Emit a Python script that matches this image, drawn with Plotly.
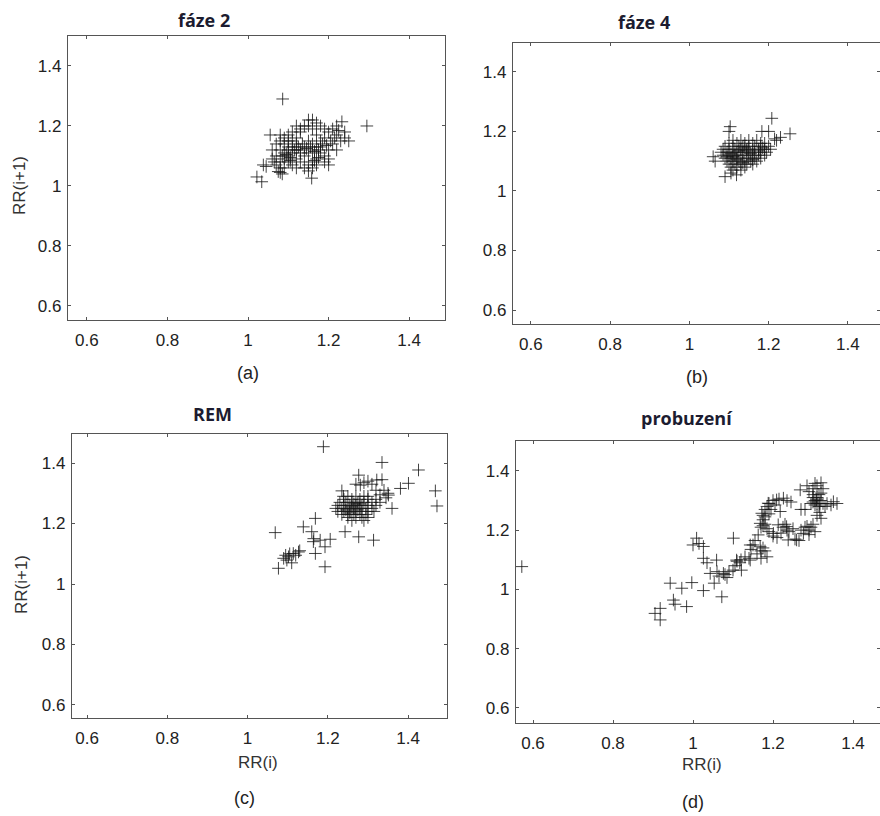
import plotly.graph_objects as go

W, H = 880, 816

TITLES = ["fáze 2", "fáze 4", "REM", "probuzení"]
LABELS = ["(a)", "(b)", "(c)", "(d)"]
TICKS = [0.6, 0.8, 1.0, 1.2, 1.4]
TICK_TEXT = ["0.6", "0.8", "1", "1.2", "1.4"]

A_PTS = [
    (1.086, 1.29), (1.295, 1.2), (1.034, 1.014), (1.022, 1.03), (1.158, 1.026), (1.233, 1.214),
    (1.055, 1.17), (1.038, 1.07), (1.045, 1.065), (1.075, 1.048), (1.08, 1.045),
    (1.07, 1.10), (1.08, 1.12), (1.09, 1.14), (1.10, 1.15), (1.11, 1.13), (1.12, 1.16),
    (1.13, 1.18), (1.14, 1.20), (1.15, 1.22), (1.16, 1.19), (1.17, 1.17), (1.18, 1.15),
    (1.19, 1.16), (1.20, 1.18), (1.21, 1.19), (1.22, 1.17), (1.23, 1.15), (1.21, 1.14),
    (1.20, 1.12), (1.19, 1.10), (1.18, 1.11), (1.17, 1.09), (1.16, 1.08), (1.15, 1.07),
    (1.14, 1.06), (1.13, 1.08), (1.12, 1.09), (1.11, 1.11), (1.10, 1.10), (1.09, 1.09),
    (1.08, 1.08), (1.07, 1.07), (1.06, 1.09), (1.09, 1.11), (1.10, 1.12), (1.10, 1.13),
    (1.11, 1.15), (1.12, 1.14), (1.13, 1.12), (1.14, 1.13), (1.15, 1.15), (1.16, 1.14),
    (1.17, 1.13), (1.18, 1.13), (1.16, 1.12), (1.15, 1.11), (1.14, 1.10), (1.13, 1.11),
    (1.12, 1.12), (1.11, 1.07), (1.12, 1.06), (1.15, 1.05), (1.16, 1.06), (1.17, 1.07),
    (1.19, 1.08), (1.20, 1.09), (1.22, 1.12), (1.24, 1.16), (1.25, 1.15), (1.24, 1.18),
    (1.22, 1.20), (1.19, 1.19), (1.18, 1.20), (1.17, 1.21), (1.16, 1.22), (1.15, 1.20),
    (1.13, 1.19), (1.12, 1.20), (1.11, 1.18), (1.10, 1.17), (1.09, 1.16), (1.08, 1.15),
    (1.08, 1.17), (1.07, 1.14), (1.06, 1.12), (1.065, 1.08), (1.085, 1.10), (1.095, 1.105),
    (1.105, 1.095), (1.115, 1.12), (1.125, 1.13), (1.135, 1.14), (1.145, 1.125), (1.155, 1.13),
    (1.165, 1.115), (1.175, 1.12), (1.185, 1.14), (1.195, 1.135), (1.205, 1.15), (1.215, 1.16),
    (1.225, 1.185), (1.10, 1.08), (1.09, 1.06), (1.08, 1.06), (1.085, 1.04), (1.105, 1.085),
    (1.165, 1.085), (1.175, 1.095), (1.2, 1.07),
]

B_PTS = [
    (1.208, 1.244), (1.254, 1.192), (1.06, 1.115), (1.09, 1.048), (1.119, 1.054), (1.103, 1.216),
    (1.183, 1.2), (1.10, 1.20), (1.23, 1.18), (1.22, 1.17), (1.065, 1.10), (1.105, 1.06),
    (1.2, 1.2), (1.215, 1.175),
    (1.11, 1.17), (1.13, 1.17), (1.15, 1.17), (1.17, 1.17),
    (1.10, 1.16), (1.12, 1.16), (1.14, 1.16), (1.16, 1.16), (1.18, 1.16), (1.19, 1.16),
    (1.09, 1.15), (1.11, 1.15), (1.125, 1.15), (1.135, 1.15), (1.15, 1.15), (1.165, 1.15),
    (1.18, 1.15), (1.20, 1.15),
    (1.085, 1.14), (1.10, 1.14), (1.115, 1.14), (1.13, 1.14), (1.145, 1.14), (1.16, 1.14),
    (1.175, 1.14), (1.19, 1.14), (1.205, 1.14),
    (1.08, 1.13), (1.095, 1.13), (1.11, 1.13), (1.12, 1.13), (1.135, 1.13), (1.15, 1.13),
    (1.165, 1.13), (1.18, 1.13), (1.195, 1.13),
    (1.085, 1.12), (1.10, 1.12), (1.115, 1.12), (1.13, 1.12), (1.145, 1.12), (1.16, 1.12),
    (1.175, 1.12), (1.19, 1.12),
    (1.09, 1.11), (1.105, 1.11), (1.12, 1.11), (1.135, 1.11), (1.15, 1.11), (1.165, 1.11),
    (1.18, 1.11),
    (1.095, 1.10), (1.11, 1.10), (1.125, 1.10), (1.14, 1.10), (1.155, 1.10), (1.17, 1.10),
    (1.10, 1.09), (1.115, 1.09), (1.13, 1.09), (1.145, 1.09), (1.16, 1.09),
    (1.105, 1.08), (1.12, 1.08), (1.14, 1.08), (1.11, 1.07), (1.13, 1.07),
    (1.105, 1.125), (1.125, 1.135), (1.14, 1.145), (1.155, 1.125), (1.12, 1.105), (1.135, 1.095),
    (1.11, 1.115), (1.145, 1.135), (1.16, 1.105), (1.175, 1.135), (1.185, 1.145), (1.095, 1.115),
]

C_PTS = [
    (1.189, 1.454), (1.335, 1.402), (1.426, 1.377), (1.468, 1.308), (1.472, 1.258), (1.401, 1.333),
    (1.381, 1.316), (1.36, 1.25), (1.351, 1.294), (1.069, 1.17), (1.077, 1.052), (1.169, 1.217),
    (1.16, 1.173), (1.164, 1.14), (1.181, 1.145), (1.206, 1.148), (1.193, 1.123), (1.169, 1.101),
    (1.193, 1.057), (1.243, 1.173), (1.277, 1.156), (1.314, 1.145), (1.139, 1.189), (1.235, 1.308),
    (1.239, 1.29), (1.165, 1.15),
    (1.102, 1.09), (1.114, 1.101), (1.127, 1.106), (1.098, 1.079), (1.11, 1.07), (1.09, 1.085),
    (1.12, 1.095), (1.105, 1.1), (1.095, 1.095), (1.13, 1.11),
    (1.277, 1.36), (1.281, 1.327), (1.29, 1.335), (1.30, 1.34), (1.322, 1.344), (1.335, 1.345),
    (1.27, 1.33), (1.31, 1.33), (1.32, 1.31), (1.34, 1.31), (1.35, 1.30), (1.345, 1.285),
    (1.33, 1.295),
    (1.25, 1.29), (1.27, 1.29), (1.29, 1.29), (1.30, 1.29),
    (1.24, 1.28), (1.26, 1.28), (1.28, 1.28), (1.30, 1.28), (1.32, 1.28),
    (1.23, 1.27), (1.245, 1.27), (1.26, 1.27), (1.275, 1.27), (1.29, 1.27), (1.31, 1.27), (1.33, 1.27),
    (1.225, 1.26), (1.24, 1.26), (1.255, 1.26), (1.27, 1.26), (1.285, 1.26), (1.30, 1.26), (1.32, 1.26),
    (1.22, 1.25), (1.235, 1.25), (1.25, 1.25), (1.265, 1.25), (1.28, 1.25), (1.295, 1.25), (1.31, 1.25),
    (1.225, 1.24), (1.24, 1.24), (1.255, 1.24), (1.27, 1.24), (1.285, 1.24), (1.30, 1.24), (1.315, 1.24),
    (1.235, 1.23), (1.25, 1.23), (1.265, 1.23), (1.28, 1.23), (1.295, 1.23),
    (1.25, 1.22), (1.27, 1.22), (1.285, 1.22), (1.30, 1.22),
    (1.26, 1.21), (1.29, 1.21),
    (1.245, 1.245), (1.26, 1.255), (1.275, 1.245), (1.255, 1.235), (1.28, 1.265), (1.265, 1.265),
]

D_PTS = [
    (0.572, 1.077), (0.905, 0.919), (0.918, 0.936), (0.918, 0.897), (0.951, 0.964), (0.955, 0.95),
    (0.984, 0.942), (0.943, 1.021), (0.972, 1.004), (0.997, 1.023), (1.026, 0.996), (1.072, 0.975),
    (1.053, 1.021), (1.043, 1.054), (1.076, 1.054), (1.026, 1.105), (1.059, 1.099), (1.009, 1.173),
    (1.026, 1.145), (1.101, 1.173), (1.109, 1.099), (1.117, 1.09), (1.121, 1.065), (1.10, 1.065),
    (1.143, 1.099), (1.143, 1.15), (1.168, 1.144), (1.17, 1.13), (1.163, 1.184), (1.168, 1.223),
    (1.172, 1.257), (1.188, 1.291), (1.209, 1.302), (1.226, 1.308), (1.218, 1.263), (1.213, 1.218),
    (1.201, 1.189), (1.234, 1.212), (1.238, 1.167), (1.259, 1.167), (1.276, 1.189), (1.28, 1.21),
    (1.285, 1.213), (1.29, 1.2), (1.268, 1.336), (1.285, 1.35), (1.305, 1.358), (1.309, 1.302),
    (1.30, 1.31), (1.317, 1.29), (1.351, 1.296), (1.335, 1.29), (1.317, 1.26), (1.28, 1.27),
    (1.27, 1.27),
    (1.175, 1.25), (1.18, 1.27), (1.185, 1.28), (1.19, 1.29), (1.2, 1.3), (1.215, 1.305),
    (1.235, 1.30), (1.245, 1.295), (1.18, 1.22), (1.175, 1.215), (1.17, 1.21), (1.185, 1.205),
    (1.19, 1.195), (1.2, 1.18), (1.21, 1.175), (1.22, 1.19), (1.225, 1.21), (1.23, 1.22),
    (1.235, 1.20), (1.24, 1.195), (1.25, 1.205), (1.255, 1.17), (1.265, 1.165), (1.29, 1.33),
    (1.30, 1.34), (1.31, 1.35), (1.32, 1.36), (1.315, 1.32), (1.31, 1.31), (1.305, 1.30),
    (1.30, 1.295), (1.295, 1.29), (1.32, 1.30), (1.325, 1.29), (1.33, 1.28), (1.315, 1.28),
    (1.305, 1.285), (1.36, 1.29), (1.345, 1.285), (1.31, 1.25), (1.32, 1.24), (1.30, 1.22),
    (1.295, 1.21), (1.305, 1.195), (1.29, 1.185), (1.27, 1.2), (1.15, 1.15), (1.155, 1.165),
    (1.145, 1.135), (1.16, 1.12), (1.175, 1.14), (1.18, 1.13), (1.185, 1.11), (1.17, 1.105),
    (1.11, 1.095), (1.12, 1.10), (1.105, 1.08), (1.08, 1.05), (1.085, 1.04), (1.09, 1.06),
    (1.065, 1.045), (1.06, 1.06), (1.13, 1.11), (1.14, 1.105), (1.035, 1.09), (1.0, 1.15),
    (1.015, 1.155), (1.175, 1.235), (1.18, 1.245), (1.19, 1.255), (1.195, 1.27), (1.205, 1.285),
    (1.3, 1.32), (1.31, 1.29), (1.32, 1.325), (1.325, 1.34),
]

PANELS = [A_PTS, B_PTS, C_PTS, D_PTS]

# plot-area geometry in pixels (left, right, top, bottom) and axis ranges
BOXES = [(68, 445, 36, 320), (513, 880, 43, 324), (72, 447, 434, 718), (516, 880, 441, 723)]
XR = [(0.553, 1.489), (0.555, 1.481), (0.5626, 1.497), (0.5575, 1.4675)]
YR = [(0.553, 1.5), (0.553, 1.497), (0.557, 1.496), (0.549, 1.501)]

fig = go.Figure()
layout = {}
for i, pts in enumerate(PANELS):
    n = "" if i == 0 else str(i + 1)
    fig.add_trace(go.Scatter(
        x=[p[0] for p in pts], y=[p[1] for p in pts], mode="markers",
        xaxis="x" + n, yaxis="y" + n, showlegend=False, hoverinfo="skip",
        marker=dict(symbol="cross-thin", size=9,
                    line=dict(width=1, color="rgba(20,20,20,0.8)")),
    ))
    l, r, t, b = BOXES[i]
    common = dict(showline=True, mirror="ticks", linecolor="#555", linewidth=1.4,
                  ticks="inside", ticklen=3, tickcolor="#555", showgrid=False,
                  zeroline=False, tickvals=TICKS, ticktext=TICK_TEXT,
                  tickfont=dict(family="Liberation Sans", size=17, color="#222"))
    layout["xaxis" + n] = dict(domain=[l / W, r / W], range=list(XR[i]),
                               anchor="y" + n, ticklabelstandoff=4, **common)
    layout["yaxis" + n] = dict(domain=[1 - b / H, 1 - t / H], range=list(YR[i]),
                               anchor="x" + n, ticklabelstandoff=2, **common)

ann = []
TITLE_POS = [(204, 20), (644, 22), (212, 414), (687, 418)]
LABEL_POS = [(248, 373), (697, 377), (245, 798), (693, 802)]
mid = dict(xref="paper", yref="paper", showarrow=False, xanchor="center", yanchor="middle")
for i in range(4):
    ann.append(dict(x=TITLE_POS[i][0] / W, y=1 - TITLE_POS[i][1] / H,
                    text="<b>" + TITLES[i] + "</b>",
                    font=dict(family="Open Sans", size=18, color="#1c1c30"), **mid))
    ann.append(dict(x=LABEL_POS[i][0] / W, y=1 - LABEL_POS[i][1] / H, text=LABELS[i],
                    font=dict(family="Liberation Sans", size=18, color="#222"), **mid))
for (px, py) in [(20, 186), (21, 585)]:
    ann.append(dict(x=px / W, y=1 - py / H, text="RR(i+1)", textangle=-90,
                    font=dict(family="Liberation Sans", size=17, color="#333"), **mid))
for (px, py) in [(258, 762), (702, 764)]:
    ann.append(dict(x=px / W, y=1 - py / H, text="RR(i)",
                    font=dict(family="Liberation Sans", size=17, color="#333"), **mid))

fig.update_layout(width=W, height=H, margin=dict(l=0, r=0, t=0, b=0),
                  paper_bgcolor="white", plot_bgcolor="white", annotations=ann, **layout)
fig.write_html("out.html")
